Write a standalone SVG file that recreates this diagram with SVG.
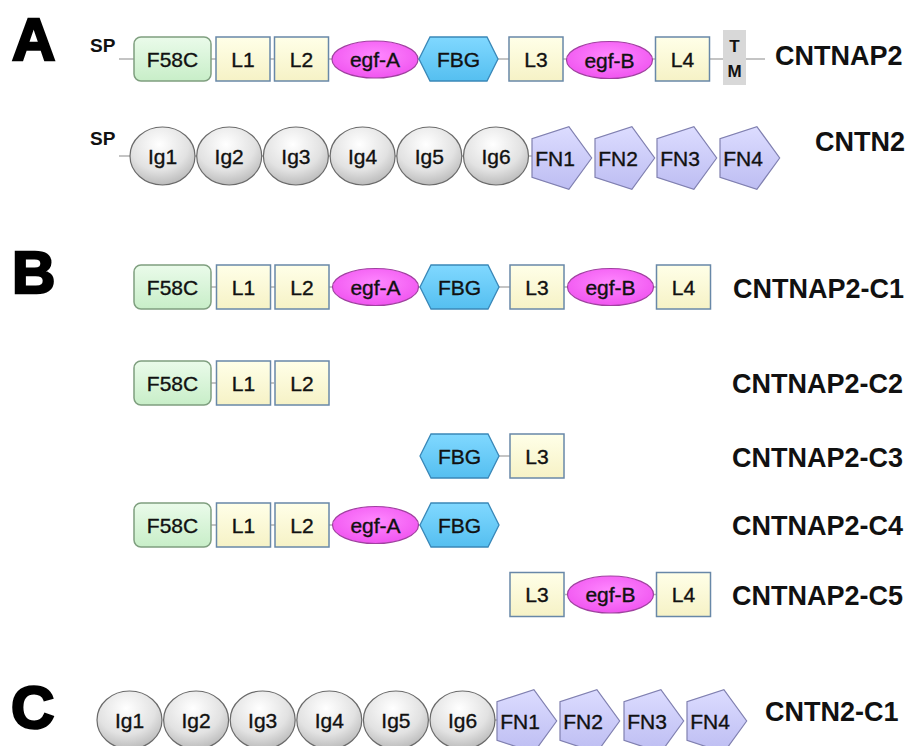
<svg xmlns="http://www.w3.org/2000/svg" width="909" height="746" viewBox="0 0 909 746">
<style>
.t{font-family:"Liberation Sans",Arial,sans-serif;font-size:21px;fill:#111;stroke:#111;stroke-width:0.35;text-anchor:middle}
.lab{font-family:"Liberation Sans",Arial,sans-serif;font-size:27px;font-weight:bold;fill:#111}
.big{font-family:"Liberation Sans",Arial,sans-serif;font-size:60px;font-weight:bold;fill:#000;stroke:#000;stroke-width:2.5}
.sp{font-family:"Liberation Sans",Arial,sans-serif;font-size:19px;font-weight:bold;fill:#111}
.tm{font-family:"Liberation Sans",Arial,sans-serif;font-size:17px;font-weight:bold;fill:#111;text-anchor:middle}
.con line{stroke:#b0b0b0;stroke-width:1.5}
.f58c{fill:url(#gGreen);stroke:#7f9f7f;stroke-width:1.5}
.lbox{fill:url(#gYellow);stroke:#6888a8;stroke-width:1.5}
.egf{fill:url(#gMag);stroke:#a040a0;stroke-width:1.2}
.fbg{fill:url(#gBlue);stroke:#3a88b8;stroke-width:1.3}
.ig{fill:url(#gGray);stroke:#6a6a6a;stroke-width:1.2}
.fn{fill:url(#gLav);stroke:#8080b0;stroke-width:1.2}
</style>
<defs>
<linearGradient id="gGreen" x1="0" y1="0" x2="0" y2="1"><stop offset="0" stop-color="#eafbea"/><stop offset="1" stop-color="#c8eec8"/></linearGradient>
<linearGradient id="gYellow" x1="0" y1="0" x2="0" y2="1"><stop offset="0" stop-color="#ffffe8"/><stop offset="1" stop-color="#f6f2c6"/></linearGradient>
<radialGradient id="gMag" cx="0.5" cy="0.4" r="0.6"><stop offset="0" stop-color="#ff88ff"/><stop offset="1" stop-color="#f055f0"/></radialGradient>
<linearGradient id="gBlue" x1="0" y1="0" x2="0" y2="1"><stop offset="0" stop-color="#80d8ff"/><stop offset="1" stop-color="#55bff0"/></linearGradient>
<radialGradient id="gGray" cx="0.45" cy="0.3" r="0.75"><stop offset="0" stop-color="#ffffff"/><stop offset="0.6" stop-color="#e2e2e2"/><stop offset="1" stop-color="#b4b4b4"/></radialGradient>
<linearGradient id="gLav" x1="0" y1="0" x2="0" y2="1"><stop offset="0" stop-color="#dcdcff"/><stop offset="1" stop-color="#bdbdf2"/></linearGradient>
<rect id="f58c" width="77" height="44" rx="7" class="f58c"/>
<rect id="lbox" width="54" height="44" class="lbox"/>
<ellipse id="egf" rx="43" ry="18.5" class="egf"/>
<polygon id="fbg" points="0,0 11,-22 68,-22 79,0 68,22 11,22" class="fbg"/>
<ellipse id="ig" rx="32.5" ry="29" class="ig"/>
<polygon id="fn" points="59.7,0 36.9,31.4 0,19.4 0,-19.4 36.9,-31.4" class="fn"/>
</defs>
<rect width="909" height="746" fill="#fff"/>

<g id="panel-letters">
<text class="big" x="12" y="60">A</text>
<text class="big" x="12" y="293">B</text>
<text class="big" x="11" y="728">C</text>
</g>

<g id="connectors" class="con">
<line x1="119" y1="59" x2="765" y2="59"/>
<line x1="119" y1="156" x2="540" y2="156"/>
<line x1="211" y1="287" x2="711" y2="287"/>
<line x1="211" y1="383" x2="274" y2="383"/>
<line x1="499" y1="456" x2="510" y2="456"/>
<line x1="211" y1="525" x2="420" y2="525"/>
<line x1="565" y1="594.5" x2="656" y2="594.5"/>
<line x1="490" y1="720" x2="505" y2="720"/>
</g>

<g id="cntnap2">
<text class="sp" x="90" y="52">SP</text>
<g id="a-f58c"><use href="#f58c" x="134" y="37"/><text class="t" x="172.5" y="66.5">F58C</text></g>
<g id="a-l1"><use href="#lbox" x="216" y="37"/><text class="t" x="243" y="66.5">L1</text></g>
<g id="a-l2"><use href="#lbox" x="274.5" y="37"/><text class="t" x="301.5" y="66.5">L2</text></g>
<g id="a-egfa"><use href="#egf" x="375" y="59.5"/><text class="t" x="375" y="67">egf-A</text></g>
<g id="a-fbg"><use href="#fbg" x="419" y="59"/><text class="t" x="458.5" y="66.5">FBG</text></g>
<g id="a-l3"><use href="#lbox" x="509" y="37"/><text class="t" x="536" y="66.5">L3</text></g>
<g id="a-egfb"><use href="#egf" x="609.5" y="60"/><text class="t" x="609.5" y="67.5">egf-B</text></g>
<g id="a-l4"><use href="#lbox" x="655.5" y="37"/><text class="t" x="682.5" y="66.5">L4</text></g>
<g id="a-tm"><rect x="723" y="30" width="23" height="55" fill="#d8d8d8"/><text class="tm" x="734.5" y="52">T</text><text class="tm" x="734.5" y="77">M</text></g>
<text class="lab" x="775" y="65">CNTNAP2</text>
</g>

<g id="cntn2">
<text class="sp" x="90" y="145">SP</text>
<g id="b-ig1"><use href="#ig" x="162.5" y="156"/><text class="t" x="162.5" y="163.5">Ig1</text></g>
<g id="b-ig2"><use href="#ig" x="229.2" y="156"/><text class="t" x="229.2" y="163.5">Ig2</text></g>
<g id="b-ig3"><use href="#ig" x="295.9" y="156"/><text class="t" x="295.9" y="163.5">Ig3</text></g>
<g id="b-ig4"><use href="#ig" x="362.6" y="156"/><text class="t" x="362.6" y="163.5">Ig4</text></g>
<g id="b-ig5"><use href="#ig" x="429.3" y="156"/><text class="t" x="429.3" y="163.5">Ig5</text></g>
<g id="b-ig6"><use href="#ig" x="496" y="156"/><text class="t" x="496" y="163.5">Ig6</text></g>
<g id="b-fn1"><use href="#fn" x="532" y="158"/><text class="t" x="555" y="165.5">FN1</text></g>
<g id="b-fn2"><use href="#fn" x="595" y="158"/><text class="t" x="618" y="165.5">FN2</text></g>
<g id="b-fn3"><use href="#fn" x="657" y="158"/><text class="t" x="680" y="165.5">FN3</text></g>
<g id="b-fn4"><use href="#fn" x="720" y="158"/><text class="t" x="743" y="165.5">FN4</text></g>
<text class="lab" x="815" y="151">CNTN2</text>
</g>

<g id="cntnap2-c1">
<g><use href="#f58c" x="134" y="265"/><text class="t" x="172.5" y="294.5">F58C</text></g>
<g><use href="#lbox" x="216.5" y="265"/><text class="t" x="243.5" y="294.5">L1</text></g>
<g><use href="#lbox" x="275" y="265"/><text class="t" x="302" y="294.5">L2</text></g>
<g><use href="#egf" x="375.5" y="287"/><text class="t" x="375.5" y="294.5">egf-A</text></g>
<g><use href="#fbg" x="420" y="287"/><text class="t" x="459.5" y="294.5">FBG</text></g>
<g><use href="#lbox" x="510" y="265"/><text class="t" x="537" y="294.5">L3</text></g>
<g><use href="#egf" x="610.5" y="287"/><text class="t" x="610.5" y="294.5">egf-B</text></g>
<g><use href="#lbox" x="656.5" y="265"/><text class="t" x="683.5" y="294.5">L4</text></g>
<text class="lab" x="733" y="298">CNTNAP2-C1</text>
</g>

<g id="cntnap2-c2">
<g><use href="#f58c" x="134" y="361"/><text class="t" x="172.5" y="390.5">F58C</text></g>
<g><use href="#lbox" x="216.5" y="361"/><text class="t" x="243.5" y="390.5">L1</text></g>
<g><use href="#lbox" x="275" y="361"/><text class="t" x="302" y="390.5">L2</text></g>
<text class="lab" x="732" y="393">CNTNAP2-C2</text>
</g>

<g id="cntnap2-c3">
<g><use href="#fbg" x="420" y="456"/><text class="t" x="459.5" y="463.5">FBG</text></g>
<g><use href="#lbox" x="510" y="434"/><text class="t" x="537" y="463.5">L3</text></g>
<text class="lab" x="732" y="467">CNTNAP2-C3</text>
</g>

<g id="cntnap2-c4">
<g><use href="#f58c" x="134" y="503"/><text class="t" x="172.5" y="532.5">F58C</text></g>
<g><use href="#lbox" x="216.5" y="503"/><text class="t" x="243.5" y="532.5">L1</text></g>
<g><use href="#lbox" x="275" y="503"/><text class="t" x="302" y="532.5">L2</text></g>
<g><use href="#egf" x="375.5" y="525"/><text class="t" x="375.5" y="532.5">egf-A</text></g>
<g><use href="#fbg" x="420" y="525"/><text class="t" x="459.5" y="532.5">FBG</text></g>
<text class="lab" x="732" y="535">CNTNAP2-C4</text>
</g>

<g id="cntnap2-c5">
<g><use href="#lbox" x="510" y="572.5"/><text class="t" x="537" y="602">L3</text></g>
<g><use href="#egf" x="610.5" y="594.5"/><text class="t" x="610.5" y="602">egf-B</text></g>
<g><use href="#lbox" x="656.5" y="572.5"/><text class="t" x="683.5" y="602">L4</text></g>
<text class="lab" x="732" y="605">CNTNAP2-C5</text>
</g>

<g id="cntn2-c1">
<g><use href="#ig" x="129.5" y="720"/><text class="t" x="129.5" y="727.5">Ig1</text></g>
<g><use href="#ig" x="196.1" y="720"/><text class="t" x="196.1" y="727.5">Ig2</text></g>
<g><use href="#ig" x="262.7" y="720"/><text class="t" x="262.7" y="727.5">Ig3</text></g>
<g><use href="#ig" x="329.3" y="720"/><text class="t" x="329.3" y="727.5">Ig4</text></g>
<g><use href="#ig" x="395.9" y="720"/><text class="t" x="395.9" y="727.5">Ig5</text></g>
<g><use href="#ig" x="462.5" y="720"/><text class="t" x="462.5" y="727.5">Ig6</text></g>
<g><use href="#fn" x="497" y="721"/><text class="t" x="520" y="728.5">FN1</text></g>
<g><use href="#fn" x="560" y="721"/><text class="t" x="583" y="728.5">FN2</text></g>
<g><use href="#fn" x="624" y="721"/><text class="t" x="647" y="728.5">FN3</text></g>
<g><use href="#fn" x="687" y="721"/><text class="t" x="710" y="728.5">FN4</text></g>
<text class="lab" x="765" y="721">CNTN2-C1</text>
</g>
</svg>
